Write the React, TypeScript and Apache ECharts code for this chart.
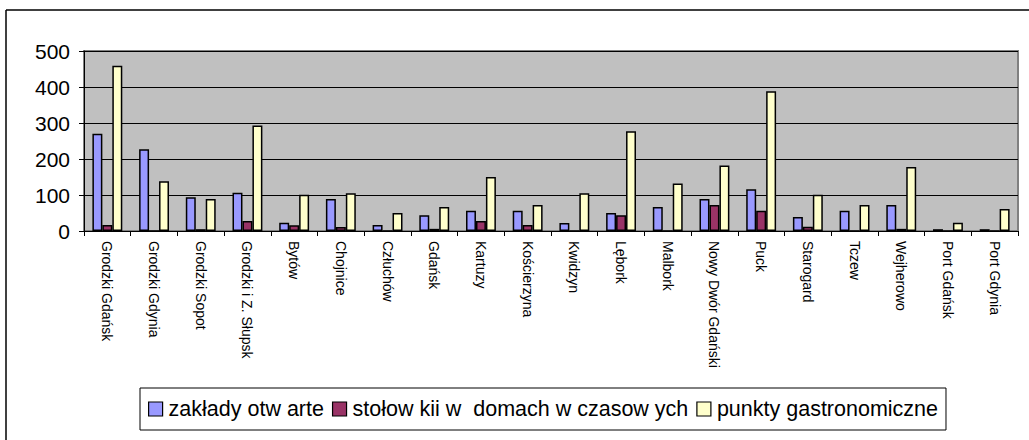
import React, { useEffect, useRef } from "react";
import * as echarts from "echarts";

const categories = [
  "Grodzki Gdańsk", "Grodzki Gdynia", "Grodzki Sopot", "Grodzki i Z. Słupsk", "Bytów",
  "Chojnice", "Człuchów", "Gdańsk", "Kartuzy", "Kościerzyna", "Kwidzyn", "Lębork",
  "Malbork", "Nowy Dwór Gdański", "Puck", "Starogard", "Tczew", "Wejherowo",
  "Port Gdańsk", "Port Gdynia",
];
const seriesNames = ["zakłady otw arte", "stołow kii w  domach w czasow ych", "punkty gastronomiczne"];
const zaklady = [270, 227, 94, 106, 23, 89, 17, 44, 56, 56, 22, 50, 67, 89, 116, 39, 56, 72, 5, 5];
const stolowki = [17, 0, 5, 28, 16, 11, 0, 6, 28, 17, 0, 44, 0, 72, 56, 12, 0, 6, 0, 0];
const punkty = [459, 138, 89, 293, 101, 105, 50, 67, 150, 72, 105, 277, 132, 182, 388, 101, 72, 178, 23, 61];
const yTicks = { min: 0, max: 500, interval: 100 };
const colors = ["#9999FF", "#993366", "#FFFFCC"];

export default function App() {
  const ref = useRef<HTMLDivElement>(null);
  useEffect(() => {
    const chart = echarts.init(ref.current!, null, { renderer: "svg" });
    const font = "Arial, 'Liberation Sans', sans-serif";
    const data = [zaklady, stolowki, punkty];
    chart.setOption({
      animation: false,
      backgroundColor: "#fff",
      textStyle: { fontFamily: font },
      grid: {
        left: 84, right: 11, top: 51, bottom: 209,
        show: true, backgroundColor: "#C0C0C0", borderColor: "#808080", borderWidth: 2,
      },
      legend: {
        left: 140, top: 388,
        padding: [10, 8, 10, 8],
        borderColor: "#000", borderWidth: 1,
        itemWidth: 14, itemHeight: 14, itemGap: 8,
        icon: "rect",
        textStyle: { fontSize: 21.5, color: "#000", fontFamily: font, padding: [0, 0, 0, 1] },
        itemStyle: { borderColor: "#000", borderWidth: 1.2 },
        data: seriesNames,
      },
      xAxis: {
        type: "category",
        data: categories,
        axisLine: { lineStyle: { color: "#000", width: 1 } },
        axisTick: { show: true, length: 5, lineStyle: { color: "#000" } },
        axisLabel: { rotate: -90, fontSize: 14, color: "#000", margin: 10, fontFamily: font, interval: 0 },
      },
      yAxis: {
        type: "value",
        min: yTicks.min, max: yTicks.max, interval: yTicks.interval,
        axisLine: { show: true, lineStyle: { color: "#000", width: 1 } },
        axisTick: { show: true, length: 5, lineStyle: { color: "#000" } },
        axisLabel: { fontSize: 21, color: "#000", margin: 14, fontFamily: font },
        splitLine: { show: true, lineStyle: { color: "#000", width: 1 } },
      },
      series: data.map((d, i) => ({
        name: seriesNames[i],
        type: "bar",
        data: d,
        barGap: "0%",
        barCategoryGap: "36%",
        itemStyle: { color: colors[i], borderColor: "#000", borderWidth: 1.5 },
      })),
      graphic: [
        { type: "line", shape: { x1: 6, y1: 10, x2: 6, y2: 440 }, style: { stroke: "#000", lineWidth: 1.5 } },
        { type: "line", shape: { x1: 6, y1: 10, x2: 1029, y2: 10 }, style: { stroke: "#000", lineWidth: 1.5 } },
      ],
    });
    return () => chart.dispose();
  }, []);
  return <div ref={ref} style={{ position: "fixed", left: 0, top: 0, width: 1029, height: 440 }} />;
}
